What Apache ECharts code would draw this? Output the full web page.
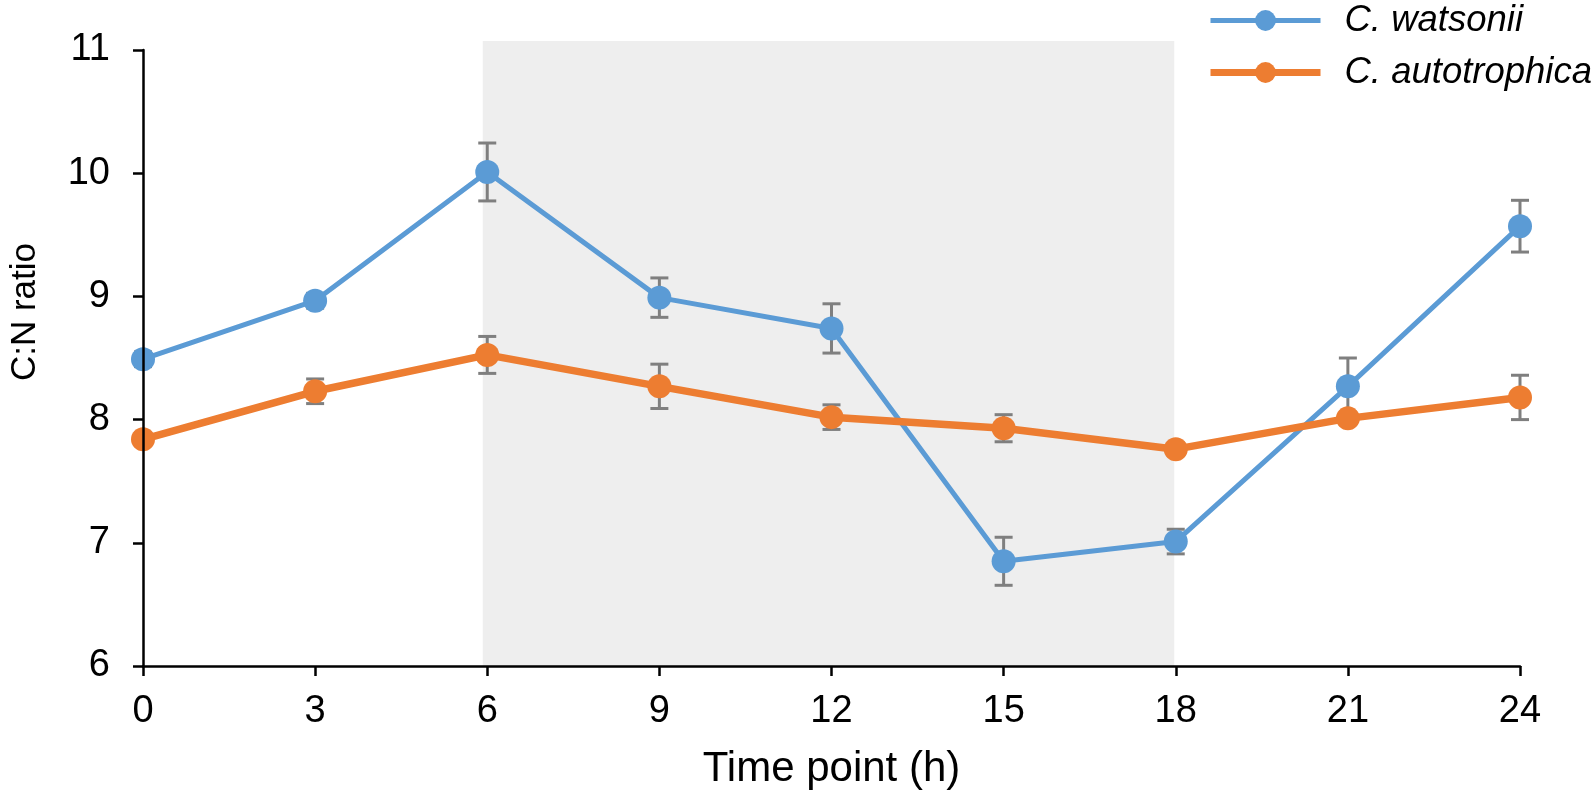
<!DOCTYPE html>
<html lang="en">
<head>
    <meta charset="UTF-8">
    <title>C:N ratio</title>
    <script src="https://cdn.jsdelivr.net/npm/echarts@6/dist/echarts.min.js"></script>
    <style>
        body { margin: 0; padding: 0; background: #fff; }
        #main { width: 1591px; height: 797px; }
    </style>
</head>
<body>
    <div id="main"></div>
    <script>
        // data
        var hours = [0, 3, 6, 9, 12, 15, 18, 21, 24];
        var watsonii = [8.49, 8.965, 10.01, 8.99, 8.74, 6.85, 7.01, 8.27, 9.57];
        var watsoniiErr = [0.06, 0.06, 0.235, 0.16, 0.2, 0.195, 0.1, 0.23, 0.21];
        var autotrophica = [7.84, 8.23, 8.525, 8.27, 8.02, 7.93, 7.76, 8.01, 8.18];
        var autotrophicaErr = [0.05, 0.1, 0.15, 0.18, 0.1, 0.11, 0.05, 0.05, 0.18];
        var darkPeriod = [6, 18];
        var names = ['C. watsonii', 'C. autotrophica'];

        var font = 'Liberation Sans, Arial, sans-serif';
        var blue = '#5B9BD5';
        var orange = '#ED7D31';
        var errColor = '#7F7F7F';

        function pairs(vals) {
            return hours.map(function (h, i) { return [h, vals[i]]; });
        }
        function errRows(vals, errs) {
            return hours.map(function (h, i) { return [h, vals[i] - errs[i], vals[i] + errs[i]]; });
        }
        function renderErr(params, api) {
            var lo = api.coord([api.value(0), api.value(1)]);
            var hi = api.coord([api.value(0), api.value(2)]);
            var w = 9;
            var st = { stroke: errColor, lineWidth: 3 };
            return {
                type: 'group',
                children: [
                    { type: 'line', shape: { x1: lo[0], y1: lo[1], x2: hi[0], y2: hi[1] }, style: st },
                    { type: 'line', shape: { x1: lo[0] - w, y1: lo[1], x2: lo[0] + w, y2: lo[1] }, style: st },
                    { type: 'line', shape: { x1: hi[0] - w, y1: hi[1], x2: hi[0] + w, y2: hi[1] }, style: st }
                ]
            };
        }

        var myChart = echarts.init(document.getElementById('main'));
        var option = {
            animation: false,
            textStyle: { fontFamily: font },
            grid: [
                { left: 137, right: 71, top: 50, bottom: 131 },
                // the grey dark-period band runs a little above the plot top
                { left: 137, right: 71, top: 41, bottom: 131 }
            ],
            legend: {
                data: [
                    { name: names[0], lineStyle: { width: 5, color: blue } },
                    { name: names[1], lineStyle: { width: 7, color: orange } }
                ],
                orient: 'vertical',
                left: 1202,
                top: -3,
                itemWidth: 110,
                itemHeight: 26,
                itemGap: 15,
                textStyle: { fontSize: 36.5, fontStyle: 'italic', color: '#000', fontFamily: font, padding: [0, 0, 0, 19] }
            },
            xAxis: [
                {
                    type: 'value',
                    min: 0,
                    max: 24,
                    interval: 3,
                    z: 10,
                    name: 'Time point (h)',
                    nameLocation: 'middle',
                    nameGap: 82,
                    nameTextStyle: { fontSize: 42, color: '#000' },
                    axisLine: { lineStyle: { color: '#000', width: 2.5 } },
                    axisTick: { length: 10, lineStyle: { color: '#000', width: 2.5 } },
                    axisLabel: { fontSize: 38, color: '#000', margin: 27 },
                    splitLine: { show: false }
                },
                { gridIndex: 1, type: 'value', min: 0, max: 24, show: false }
            ],
            yAxis: [
                {
                    type: 'value',
                    min: 6,
                    max: 11,
                    interval: 1,
                    z: 10,
                    name: 'C:N ratio',
                    nameLocation: 'middle',
                    nameGap: 100,
                    nameTextStyle: { fontSize: 35, color: '#000', padding: [0, 0, 0, 92] },
                    axisLine: { show: true, lineStyle: { color: '#000', width: 2.5 } },
                    axisTick: { show: true, length: 10, lineStyle: { color: '#000', width: 2.5 } },
                    axisLabel: { fontSize: 38, color: '#000', margin: 33 },
                    splitLine: { show: false }
                },
                { gridIndex: 1, type: 'value', min: 0, max: 1, show: false }
            ],
            series: [
                {
                    name: 'dark',
                    type: 'line',
                    xAxisIndex: 1,
                    yAxisIndex: 1,
                    data: [],
                    z: 1,
                    silent: true,
                    markArea: {
                        silent: true,
                        itemStyle: { color: '#EEEEEE' },
                        data: [[{ xAxis: darkPeriod[0] }, { xAxis: darkPeriod[1] }]]
                    }
                },
                {
                    type: 'custom',
                    renderItem: renderErr,
                    data: errRows(watsonii, watsoniiErr),
                    encode: { x: 0, y: [1, 2] },
                    z: 3,
                    silent: true
                },
                {
                    type: 'custom',
                    renderItem: renderErr,
                    data: errRows(autotrophica, autotrophicaErr),
                    encode: { x: 0, y: [1, 2] },
                    z: 3,
                    silent: true
                },
                {
                    name: names[0],
                    type: 'line',
                    data: pairs(watsonii),
                    z: 4,
                    symbol: 'circle',
                    symbolSize: 24,
                    color: blue,
                    lineStyle: { color: blue, width: 5 },
                    itemStyle: { color: blue }
                },
                {
                    name: names[1],
                    type: 'line',
                    data: pairs(autotrophica),
                    z: 5,
                    symbol: 'circle',
                    symbolSize: 24,
                    color: orange,
                    lineStyle: { color: orange, width: 7.5 },
                    itemStyle: { color: orange }
                }
            ]
        };
        myChart.setOption(option);
    </script>
</body>
</html>
